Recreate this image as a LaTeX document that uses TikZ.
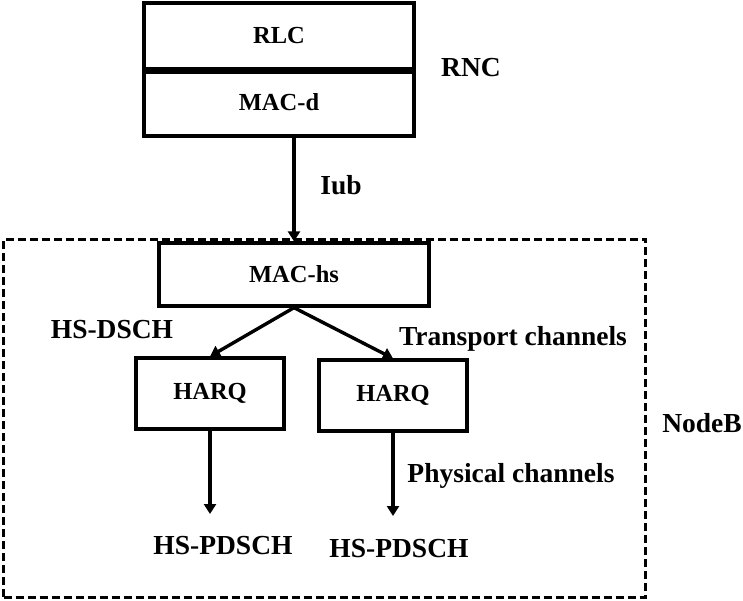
\documentclass[tikz,border=0pt]{standalone}
\usepackage{fontspec}
\setmainfont{Liberation Serif}
\usetikzlibrary{arrows.meta}
\begin{document}
\begin{tikzpicture}[x=1pt,y=-1pt,
  box/.style={draw, line width=3.3pt, inner sep=0pt, font=\fontsize{24.5}{28}\selectfont\bfseries},
  lbl/.style={inner sep=0pt, font=\fontsize{27.5}{32}\selectfont\bfseries},
  arr/.style={line width=3.4pt, -{Triangle[length=10pt,width=12pt]}}]
\useasboundingbox (0,0) rectangle (743,600);
\node[box, minimum width=270pt, minimum height=66pt] (rlc) at (279,36) {RLC};
\node[box, minimum width=270pt, minimum height=67pt] (macd) at (279,102.5) {MAC-d};
\draw[line width=6.5pt] (rlc.south west) -- (rlc.south east);
\node[lbl] (rnc) at (471,68) {RNC};
\node[draw, line width=3pt, dash pattern=on 8pt off 4pt, minimum width=642pt, minimum height=358pt] (nodebbox) at (324.5,418) {};
\node[box, minimum width=270pt, minimum height=63pt] (machs) at (294,274.5) {MAC-hs};
\draw[arr] (macd.south -| machs.north) -- (machs.north);
\node[lbl] (iub) at (341,185) {Iub};
\node[box, minimum width=148pt, minimum height=71pt] (harq1) at (210,393.5) {HARQ};
\node[box, minimum width=148pt, minimum height=71pt] (harq2) at (393,395.5) {HARQ};
\draw[arr] (machs.south) -- (harq1.north);
\draw[arr] (machs.south) -- (harq2.north);
\node[lbl] (hsdsch) at (112,330) {HS-DSCH};
\node[lbl] (tc) at (513,339) {Transport channels};
\node[lbl] (nodeb) at (702,423) {NodeB};
\node[lbl] (pd1) at (223,546) {HS-PDSCH};
\node[lbl] (pd2) at (399,549) {HS-PDSCH};
\coordinate (t1) at (210,514);
\coordinate (t2) at (393,516);
\draw[arr] (harq1.south) -- (t1);
\draw[arr] (harq2.south) -- (t2);
\node[lbl] (pc) at (511,476) {Physical channels};
\end{tikzpicture}
\end{document}
